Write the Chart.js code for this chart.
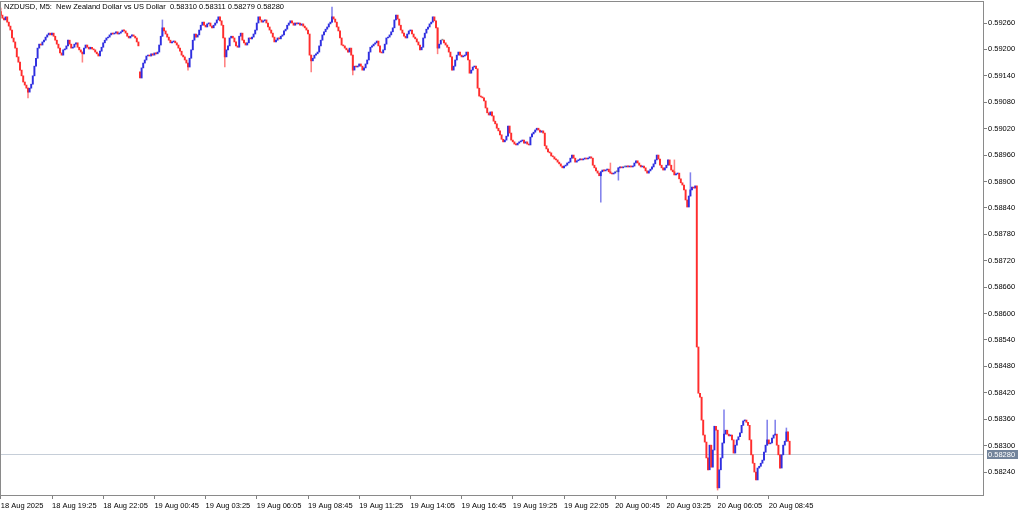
<!DOCTYPE html>
<html lang="en">
<head>
<meta charset="UTF-8">
<title>NZDUSD, M5</title>
<script src="https://cdn.jsdelivr.net/npm/chart.js@4.4.1/dist/chart.umd.min.js"></script>
<style>
    * { margin: 0; padding: 0; box-sizing: border-box; }
    body { background: #fff; width: 1024px; height: 511px; overflow: hidden; }
    .wrap { position: relative; width: 1024px; height: 511px; }
    .caption {
        position: absolute; left: 4px; top: 2px;
        font: 7.5px 'Liberation Sans', Arial, sans-serif;
        white-space: pre; color: #000;
    }
</style>
</head>
<body>
<div class="wrap">
    <canvas id="chart" width="1024" height="511"></canvas>
    <div class="caption" id="caption"></div>
</div>
<script>
// prices are stored in points above 0.5 (9260 -> 0.59260)
const BASE = 0.5;
const PT = 100000;

// close of every M5 bar, left to right
const closes = [
    9278, 9271, 9267, 9274, 9262, 9253, 9244, 9226, 9217, 9203,
    9183, 9171, 9153, 9140, 9126, 9119, 9112, 9103, 9112, 9121,
    9140, 9162, 9180, 9203, 9212, 9210, 9217, 9221, 9228, 9233,
    9237, 9233, 9237, 9230, 9221, 9212, 9203, 9192, 9187, 9199,
    9201, 9208, 9221, 9212, 9203, 9205, 9212, 9215, 9205, 9199,
    9194, 9190, 9203, 9210, 9205, 9201, 9205, 9201, 9199, 9194,
    9190, 9185, 9196, 9205, 9215, 9221, 9226, 9228, 9233, 9237,
    9235, 9237, 9240, 9235, 9237, 9240, 9244, 9242, 9237, 9230,
    9226, 9230, 9233, 9230, 9226, 9217, 9208, 9135, 9158, 9169,
    9176, 9185, 9187, 9185, 9190, 9187, 9192, 9190, 9194, 9210,
    9230, 9249, 9242, 9235, 9228, 9221, 9215, 9217, 9219, 9215,
    9210, 9203, 9196, 9187, 9183, 9176, 9169, 9160, 9180, 9199,
    9221, 9235, 9228, 9233, 9244, 9255, 9262, 9255, 9251, 9258,
    9260, 9253, 9249, 9255, 9260, 9267, 9274, 9265, 9255, 9226,
    9183, 9199, 9208, 9226, 9230, 9226, 9217, 9208, 9205, 9230,
    9237, 9221, 9215, 9210, 9215, 9226, 9224, 9228, 9235, 9244,
    9260, 9274, 9267, 9262, 9265, 9267, 9260, 9251, 9244, 9237,
    9228, 9217, 9221, 9226, 9224, 9230, 9233, 9242, 9246, 9255,
    9260, 9265, 9260, 9255, 9260, 9258, 9260, 9255, 9258, 9253,
    9249, 9244, 9235, 9187, 9174, 9180, 9187, 9190, 9194, 9208,
    9221, 9233, 9240, 9246, 9251, 9258, 9262, 9274, 9269, 9262,
    9251, 9242, 9226, 9210, 9208, 9203, 9199, 9194, 9203, 9187,
    9153, 9162, 9160, 9162, 9167, 9162, 9153, 9158, 9167, 9176,
    9194, 9205, 9208, 9212, 9215, 9219, 9208, 9194, 9192, 9199,
    9212, 9226, 9228, 9233, 9240, 9249, 9267, 9278, 9269, 9255,
    9244, 9237, 9230, 9226, 9235, 9242, 9244, 9235, 9228, 9224,
    9217, 9210, 9199, 9205, 9226, 9237, 9246, 9251, 9258, 9262,
    9274, 9265, 9249, 9203, 9212, 9221, 9221, 9215, 9210, 9205,
    9194, 9183, 9153, 9162, 9176, 9187, 9194, 9187, 9183, 9185,
    9187, 9194, 9176, 9146, 9153, 9160, 9162, 9156, 9112, 9094,
    9092, 9090, 9083, 9067, 9056, 9051, 9058, 9049, 9037, 9031,
    9021, 9015, 9006, 8996, 8990, 8994, 9003, 9026, 9010, 8994,
    8990, 8985, 8983, 8987, 8990, 8992, 8994, 8987, 8990, 8985,
    8983, 9001, 9008, 9012, 9017, 9021, 9017, 9012, 9015, 9010,
    8981, 8974, 8967, 8965, 8958, 8956, 8951, 8949, 8944, 8940,
    8935, 8931, 8935, 8937, 8942, 8944, 8953, 8960, 8953, 8944,
    8947, 8949, 8951, 8949, 8951, 8953, 8951, 8953, 8956, 8953,
    8937, 8931, 8924, 8919, 8913, 8922, 8926, 8924, 8926, 8928,
    8922, 8919, 8917, 8919, 8922, 8922, 8931, 8933, 8931, 8933,
    8933, 8935, 8933, 8935, 8933, 8935, 8942, 8947, 8942, 8937,
    8933, 8935, 8931, 8924, 8919, 8924, 8928, 8933, 8940, 8949,
    8960, 8951, 8937, 8931, 8926, 8931, 8937, 8949, 8937, 8926,
    8922, 8915, 8917, 8919, 8906, 8897, 8892, 8881, 8858, 8842,
    8867, 8881, 8887, 8885, 8890, 8524, 8419, 8410, 8358, 8324,
    8308, 8272, 8245, 8301, 8251, 8290, 8344, 8335, 8204, 8245,
    8272, 8306, 8326, 8335, 8326, 8322, 8324, 8313, 8283, 8301,
    8313, 8320, 8329, 8346, 8356, 8358, 8353, 8346, 8313, 8279,
    8260, 8240, 8222, 8249, 8253, 8260, 8267, 8285, 8301, 8313,
    8304, 8306, 8317, 8324, 8326, 8301, 8279, 8249, 8279, 8301,
    8310, 8331, 8310, 8280
];

// bars whose open is not the previous close: [bar, open]
const gapOpens = [[0, 9286], [87, 9149]];

// visible wick extremes: [bar, price]
const spikeHighs = [[0, 9294], [101, 9267], [207, 9296], [381, 8942], [421, 8949],
    [431, 8920], [452, 8381], [479, 8358], [484, 8358], [491, 8340]];
const spikeLows = [[17, 9090], [51, 9171], [117, 9153], [140, 9160], [194, 9149],
    [220, 9142], [273, 9190], [375, 8853], [386, 8903], [448, 8199]];

// axis ticks
const timeTickBars = [0, 32, 64, 96, 128, 160, 192, 224, 256, 288, 320, 352, 384, 416, 448, 480];
const timeLabels = ['18 Aug 2025', '18 Aug 19:25', '18 Aug 22:05', '19 Aug 00:45', '19 Aug 03:25',
    '19 Aug 06:05', '19 Aug 08:45', '19 Aug 11:25', '19 Aug 14:05', '19 Aug 16:45', '19 Aug 19:25',
    '19 Aug 22:05', '20 Aug 00:45', '20 Aug 03:25', '20 Aug 06:05', '20 Aug 08:45'];
const priceTicks = [8240, 8300, 8360, 8420, 8480, 8540, 8600, 8660, 8720, 8780, 8840,
    8900, 8960, 9020, 9080, 9140, 9200, 9260];

// header: open, high, low, close of the last bar
const lastOHLC = [8310, 8311, 8279, 8280];

const UP = '#2f2fe0';
const DOWN = '#ff2d2d';
const FLAT = '#8c8c8c';
const FONT = { family: "'Liberation Sans', Arial, sans-serif", size: 7.5 };

const fmt = v => (BASE + v / PT).toFixed(5);

document.getElementById('caption').textContent =
    'NZDUSD, M5:  New Zealand Dollar vs US Dollar  ' + lastOHLC.map(fmt).join(' ');

// build bars
const opens = closes.map((c, i) => (i ? closes[i - 1] : c));
gapOpens.forEach(([i, v]) => { opens[i] = v; });

const barColor = i => (closes[i] > opens[i] ? UP : closes[i] < opens[i] ? DOWN : FLAT);

const bodies = closes.map((c, i) => ({ x: i, y: [opens[i], c] }));
const bodyColors = closes.map((c, i) => barColor(i));

const wickMap = {};
spikeHighs.forEach(([i, v]) => {
    wickMap[i] = wickMap[i] || [Math.min(opens[i], closes[i]), Math.max(opens[i], closes[i])];
    wickMap[i][1] = Math.max(wickMap[i][1], v);
});
spikeLows.forEach(([i, v]) => {
    wickMap[i] = wickMap[i] || [Math.min(opens[i], closes[i]), Math.max(opens[i], closes[i])];
    wickMap[i][0] = Math.min(wickMap[i][0], v);
});
const wickIdx = Object.keys(wickMap).map(Number);
const wicks = wickIdx.map(i => ({ x: i, y: wickMap[i] }));
const wickColors = wickIdx.map(i => barColor(i) + '99');

const lastClose = closes[closes.length - 1];

// no extra room for half labels at the ends of the axes
function tightFit(size) {
    return s => {
        if (s.isHorizontal()) s.height = size; else s.width = size;
        s.paddingTop = 0;
        s.paddingBottom = 0;
        s.paddingLeft = 0;
        s.paddingRight = 0;
    };
}

// frame, last price line and price box
const framePlugin = {
    id: 'frame',
    beforeDatasetsDraw(chart) {
        const { ctx, chartArea: a, scales } = chart;
        const y = Math.round(scales.y.getPixelForValue(lastClose)) + 0.5;
        ctx.save();
        ctx.strokeStyle = '#c6ced8';
        ctx.lineWidth = 1;
        ctx.beginPath();
        ctx.moveTo(a.left, y);
        ctx.lineTo(a.right, y);
        ctx.stroke();
        ctx.restore();
    },
    afterDraw(chart) {
        const { ctx, chartArea: a, scales } = chart;
        ctx.save();
        ctx.strokeStyle = '#8a8a8a';
        ctx.lineWidth = 1;
        ctx.strokeRect(a.left + 0.5, a.top + 0.5, a.right - a.left - 1, a.bottom - a.top - 1);
        const y = Math.round(scales.y.getPixelForValue(lastClose));
        ctx.fillStyle = '#73849b';
        ctx.fillRect(a.right + 3, y - 4, 31, 9);
        ctx.fillStyle = '#fff';
        ctx.font = "7.5px 'Liberation Sans', Arial, sans-serif";
        ctx.textBaseline = 'middle';
        ctx.fillText(fmt(lastClose), a.right + 4, y + 0.5);
        ctx.restore();
    }
};

new Chart(document.getElementById('chart'), {
    type: 'bar',
    data: {
        datasets: [
            {
                data: wicks,
                backgroundColor: wickColors,
                barThickness: 0.9,
                grouped: false,
                order: 2
            },
            {
                data: bodies,
                backgroundColor: bodyColors,
                barThickness: 1.3,
                minBarLength: 1,
                grouped: false,
                order: 1
            }
        ]
    },
    options: {
        responsive: false,
        animation: false,
        events: [],
        layout: { padding: { top: 1, left: 0, right: 0, bottom: 0 } },
        plugins: { legend: { display: false }, tooltip: { enabled: false } },
        scales: {
            x: {
                type: 'linear',
                offset: false,
                min: -0.5,
                max: 614.5,
                afterBuildTicks: s => { s.ticks = timeTickBars.map(v => ({ value: v })); },
                afterFit: tightFit(15),
                ticks: {
                    autoSkip: false,
                    maxRotation: 0,
                    align: 'start',
                    padding: 2,
                    color: '#000',
                    font: FONT,
                    callback: (v, i) => timeLabels[i]
                },
                grid: { offset: false, drawOnChartArea: false, tickLength: 3, color: '#808080' },
                border: { display: false }
            },
            y: {
                type: 'linear',
                position: 'right',
                min: 8185.5,
                max: 9310,
                afterBuildTicks: s => { s.ticks = priceTicks.map(v => ({ value: v })); },
                afterFit: tightFit(40),
                ticks: {
                    padding: 1,
                    color: '#000',
                    font: FONT,
                    callback: v => fmt(v)
                },
                grid: { drawOnChartArea: false, tickLength: 3, color: '#808080' },
                border: { display: false }
            }
        }
    },
    plugins: [framePlugin]
});
</script>
</body>
</html>
